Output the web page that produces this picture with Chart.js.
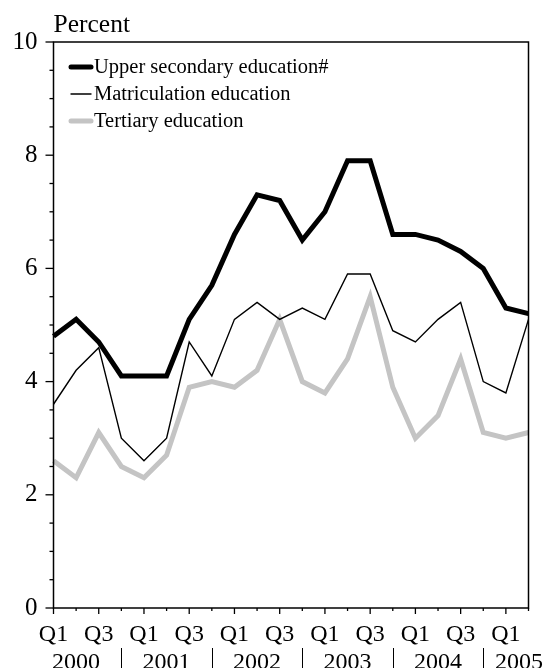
<!DOCTYPE html>
<html>
<head>
<meta charset="utf-8">
<script src="https://cdn.jsdelivr.net/npm/chart.js@4/dist/chart.umd.min.js"></script>
<style>
  html, body { margin: 0; padding: 0; background: #ffffff; }
  #wrap { width: 543px; height: 668px; }
</style>
</head>
<body>
<div id="wrap"><canvas id="chart" width="543" height="668"></canvas></div>
<script>
// Quarterly series, Q1 2000 – Q2 2005 (percent)
const quarters = [
  'Q1','Q2','Q3','Q4', 'Q1','Q2','Q3','Q4', 'Q1','Q2','Q3','Q4',
  'Q1','Q2','Q3','Q4', 'Q1','Q2','Q3','Q4', 'Q1','Q2'
];
const years = ['2000', '2001', '2002', '2003', '2004', '2005'];

const upperSecondary = [4.8, 5.1, 4.7, 4.1, 4.1, 4.1, 5.1, 5.7, 6.6, 7.3, 7.2, 6.5, 7.0, 7.9, 7.9, 6.6, 6.6, 6.5, 6.3, 6.0, 5.3, 5.2];
const matriculation  = [3.6, 4.2, 4.6, 3.0, 2.6, 3.0, 4.7, 4.1, 5.1, 5.4, 5.1, 5.3, 5.1, 5.9, 5.9, 4.9, 4.7, 5.1, 5.4, 4.0, 3.8, 5.1];
const tertiary       = [2.6, 2.3, 3.1, 2.5, 2.3, 2.7, 3.9, 4.0, 3.9, 4.2, 5.1, 4.0, 3.8, 4.4, 5.5, 3.9, 3.0, 3.4, 4.4, 3.1, 3.0, 3.1];

const seriesNames = ['Upper secondary education#', 'Matriculation education', 'Tertiary education'];
const yTickLabels = [0, 2, 4, 6, 8, 10];

const SERIF = '"Liberation Serif", "Times New Roman", serif';

// Frame, tick marks, unit title, year row and in-plot legend
const decorations = {
  id: 'decorations',
  afterDatasetsDraw(chart) {
    const { ctx, chartArea: a, scales: { x, y } } = chart;
    ctx.save();
    ctx.strokeStyle = '#000';
    ctx.lineWidth = 1.5;
    ctx.strokeRect(a.left, a.top, a.right - a.left, a.bottom - a.top);

    // y tick marks: long at labelled values, short at half steps
    ctx.lineWidth = 1.3;
    y.ticks.forEach(t => {
      const py = y.getPixelForValue(t.value);
      const len = yTickLabels.includes(t.value) ? 8 : 4;
      ctx.beginPath();
      ctx.moveTo(a.left - len, py);
      ctx.lineTo(a.left, py);
      ctx.stroke();
    });

    // x tick marks: long at Q1/Q3, short at Q2/Q4
    quarters.forEach((q, i) => {
      const px = x.getPixelForValue(i);
      const len = (q === 'Q1' || q === 'Q3') ? 6 : 3;
      ctx.beginPath();
      ctx.moveTo(px, a.bottom);
      ctx.lineTo(px, a.bottom + len);
      ctx.stroke();
    });

    // year labels centred on Q2, separators at Q4
    ctx.font = '24px ' + SERIF;
    ctx.fillStyle = '#000';
    ctx.textBaseline = 'alphabetic';
    ctx.textAlign = 'center';
    const W = chart.width;
    years.forEach((yr, k) => {
      const idx = k * 4 + 1;
      if (idx >= quarters.length) return;
      let cx = x.getPixelForValue(idx);
      const w = ctx.measureText(yr).width;
      if (cx + w / 2 > W) cx = W - w / 2;
      ctx.fillText(yr, cx, 669);
    });
    ctx.lineWidth = 1;
    quarters.forEach((q, i) => {
      if (q !== 'Q4') return;
      const px = Math.round(x.getPixelForValue(i)) + 0.5;
      ctx.beginPath();
      ctx.moveTo(px, 648);
      ctx.lineTo(px, 668);
      ctx.stroke();
    });

    // unit title
    ctx.font = '25.5px ' + SERIF;
    ctx.textAlign = 'left';
    ctx.fillText('Percent', a.left, 32);

    // legend
    ctx.font = '20.5px ' + SERIF;
    ctx.textBaseline = 'middle';
    chart.data.datasets.forEach((ds, i) => {
      const ly = 67 + i * 27;
      ctx.strokeStyle = ds.borderColor;
      ctx.lineWidth = ds.borderWidth;
      ctx.lineCap = 'round';
      ctx.beginPath();
      ctx.moveTo(71, ly);
      ctx.lineTo(91, ly);
      ctx.stroke();
      ctx.fillStyle = '#000';
      ctx.fillText(ds.label, 94, ly + 1);
    });
    ctx.restore();
  }
};

new Chart(document.getElementById('chart'), {
  type: 'line',
  data: {
    labels: quarters,
    datasets: [
      { label: seriesNames[0], data: upperSecondary, borderColor: '#000000', borderWidth: 5 },
      { label: seriesNames[1], data: matriculation,  borderColor: '#000000', borderWidth: 1.4 },
      { label: seriesNames[2], data: tertiary,       borderColor: '#c4c4c4', borderWidth: 5 }
    ]
  },
  options: {
    responsive: false,
    devicePixelRatio: 1,
    animation: false,
    layout: { padding: { top: 42, right: 14.5, left: 0, bottom: 0 } },
    elements: {
      line: { tension: 0, fill: false, borderJoinStyle: 'miter' },
      point: { radius: 0, hoverRadius: 0 }
    },
    plugins: { legend: { display: false }, tooltip: { enabled: false } },
    scales: {
      x: {
        type: 'category',
        offset: false,
        grid: { display: false, drawTicks: false },
        border: { display: false },
        ticks: {
          autoSkip: false,
          maxRotation: 0,
          padding: 12,
          color: '#000',
          font: { family: SERIF, size: 24 },
          callback: (v, i) => (quarters[i] === 'Q1' || quarters[i] === 'Q3') ? quarters[i] : ''
        },
        afterFit: s => { s.height = 60; }
      },
      y: {
        min: 0,
        max: 10,
        grid: { display: false, drawTicks: false },
        border: { display: false },
        ticks: {
          stepSize: 0.5,
          autoSkip: false,
          padding: 16,
          color: '#000',
          font: { family: SERIF, size: 25 },
          callback: v => yTickLabels.includes(v) ? String(v) : ''
        },
        afterFit: s => { s.width = 53.5; }
      }
    }
  },
  plugins: [decorations]
});
</script>
</body>
</html>
